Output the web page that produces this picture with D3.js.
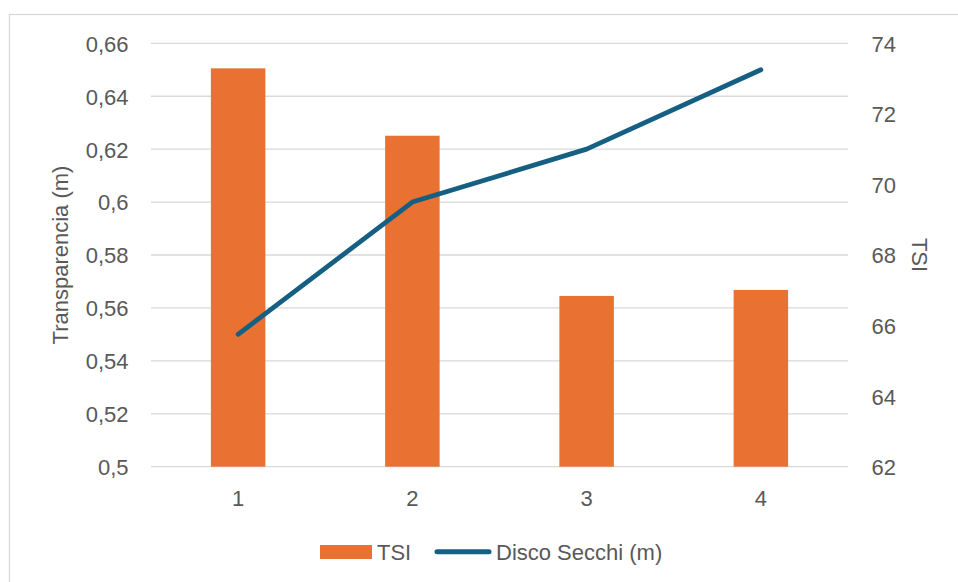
<!DOCTYPE html>
<html>
<head>
<meta charset="utf-8">
<script src="https://cdn.jsdelivr.net/npm/d3@7"></script>
<style>
  html, body { margin: 0; padding: 0; background: #fff; }
  svg { display: block; }
  text { font-family: "Liberation Sans", Arial, sans-serif; fill: #595959; }
</style>
</head>
<body>
<svg id="chart" width="958" height="582"></svg>
<script>
// Sampling points along the x axis
const categories = ["1", "2", "3", "4"];
// Trophic state index per point (bars, right axis)
const tsiValues = [73.29, 71.38, 66.84, 67.01];
// Secchi disk depth in metres (line, left axis)
const secchiValues = [0.55, 0.60, 0.62, 0.65];
// Tick labels for both value axes
const leftTicks = [0.5, 0.52, 0.54, 0.56, 0.58, 0.6, 0.62, 0.64, 0.66];
const rightTicks = [62, 64, 66, 68, 70, 72, 74];

const orange = "#E97132";
const blue = "#156082";
const grid = "#d9d9d9";
const fontSize = "22px";

const svg = d3.select("#chart");
const plot = { left: 151, right: 848, top: 43.3, bottom: 466.7 };

// Outer chart frame
svg.append("rect")
  .attr("x", 9.5).attr("y", 14.5)
  .attr("width", 1000).attr("height", 1000)
  .attr("fill", "#fff").attr("stroke", grid).attr("stroke-width", 1.3);

const x = d3.scaleBand().domain(categories).range([plot.left, plot.right]).paddingInner(0).paddingOuter(0);
const yLeft = d3.scaleLinear().domain([0.5, 0.66]).range([plot.bottom, plot.top]);
const yRight = d3.scaleLinear().domain([62, 74]).range([plot.bottom, plot.top]);

const fmtComma = d => String(+d.toFixed(2)).replace(".", ",");

// Horizontal gridlines
svg.append("g").selectAll("line").data(leftTicks).join("line")
  .attr("x1", plot.left).attr("x2", plot.right)
  .attr("y1", d => yLeft(d)).attr("y2", d => yLeft(d))
  .attr("stroke", grid).attr("stroke-width", 1.3);

function styleTicks(g) {
  g.select(".domain").remove();
  g.selectAll("text").style("font-size", fontSize).attr("fill", "#595959")
    .attr("font-family", "Liberation Sans, Arial, sans-serif");
}

// Left axis labels
const leftAxis = d3.axisLeft(yLeft).tickValues(leftTicks).tickFormat(fmtComma).tickSize(0).tickPadding(0);
const gL = svg.append("g").attr("transform", "translate(128.5,0)").call(leftAxis);
styleTicks(gL);
gL.selectAll("text").attr("dy", "0.36em");

// Right axis labels
const rightAxis = d3.axisRight(yRight).tickValues(rightTicks).tickFormat(d3.format("d")).tickSize(0).tickPadding(0);
const gR = svg.append("g").attr("transform", "translate(871.5,0)").call(rightAxis);
styleTicks(gR);
gR.selectAll("text").attr("dy", "0.36em");

// Category labels
const bottomAxis = d3.axisBottom(x).tickSize(0).tickPadding(0);
const gB = svg.append("g").attr("transform", "translate(0,490)").call(bottomAxis);
styleTicks(gB);
gB.selectAll("text").attr("dy", "0.71em");

// TSI bars
const barW = 54.5;
svg.append("g").selectAll("rect").data(tsiValues).join("rect")
  .attr("x", (d, i) => x(categories[i]) + x.bandwidth() / 2 - barW / 2)
  .attr("width", barW)
  .attr("y", d => yRight(d))
  .attr("height", d => yRight(62) - yRight(d))
  .attr("fill", orange);

// Secchi depth line
const line = d3.line()
  .x((d, i) => x(categories[i]) + x.bandwidth() / 2)
  .y(d => yLeft(d));
svg.append("path").datum(secchiValues)
  .attr("d", line)
  .attr("fill", "none").attr("stroke", blue)
  .attr("stroke-width", 4.8)
  .attr("stroke-linecap", "round").attr("stroke-linejoin", "round");

// Axis titles
svg.append("text")
  .attr("transform", `translate(68,${(plot.top + plot.bottom) / 2}) rotate(-90)`)
  .attr("text-anchor", "middle")
  .style("font-size", fontSize)
  .text("Transparencia (m)");
svg.append("text")
  .attr("transform", `translate(912,${(plot.top + plot.bottom) / 2}) rotate(90)`)
  .attr("text-anchor", "middle")
  .style("font-size", fontSize)
  .text("TSI");

// Legend
const lg = svg.append("g");
lg.append("rect").attr("x", 320).attr("y", 545).attr("width", 52).attr("height", 14).attr("fill", orange);
lg.append("text").attr("x", 377).attr("y", 559.5).style("font-size", fontSize).text("TSI");
lg.append("line").attr("x1", 437).attr("x2", 489).attr("y1", 551.7).attr("y2", 551.7)
  .attr("stroke", blue).attr("stroke-width", 5).attr("stroke-linecap", "round");
lg.append("text").attr("x", 496).attr("y", 559.5).style("font-size", fontSize).text("Disco Secchi (m)");
</script>
</body>
</html>
